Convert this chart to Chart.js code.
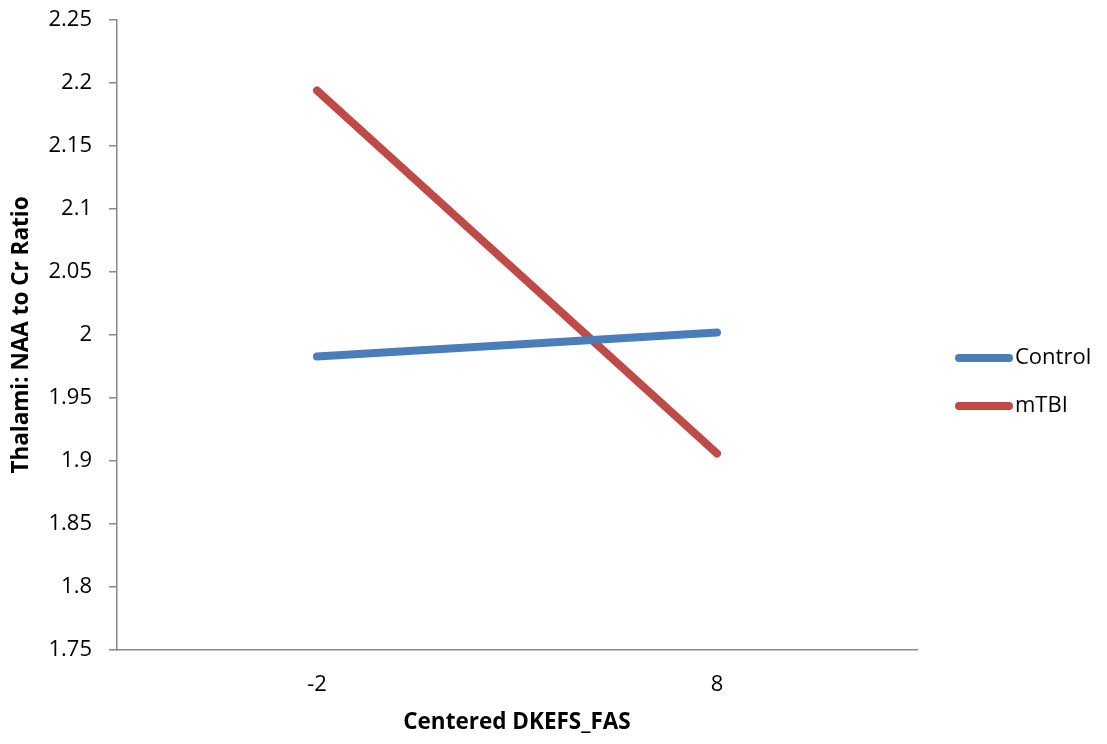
<!DOCTYPE html>
<html>
<head>
<meta charset="utf-8">
<script src="https://cdn.jsdelivr.net/npm/chart.js@4.4.0/dist/chart.umd.min.js"></script>
<style>
html,body{margin:0;padding:0;background:#fff;}
#wrap{width:1107px;height:744px;position:relative;}
</style>
</head>
<body>
<div id="wrap"><canvas id="c" width="1107" height="744"></canvas></div>
<script>
const categories = ['-2', '8'];
const controlValues = [1.983, 2.002];
const mtbiValues = [2.194, 1.906];
const seriesNames = ['Control', 'mTBI'];
const yTickValues = [1.75, 1.8, 1.85, 1.9, 1.95, 2, 2.05, 2.1, 2.15, 2.2, 2.25];

const FONT = "'Open Sans', 'Noto Sans', sans-serif";

const legendPlugin = {
  id: 'sideLegend',
  afterDraw(chart) {
    const ctx = chart.ctx;
    ctx.save();
    chart.data.datasets.forEach((ds, i) => {
      const y = 358 + i * 48;
      ctx.beginPath();
      ctx.strokeStyle = ds.borderColor;
      ctx.lineWidth = 8;
      ctx.lineCap = 'round';
      ctx.moveTo(959, y);
      ctx.lineTo(1009, y);
      ctx.stroke();
      ctx.fillStyle = '#000';
      ctx.font = "22px " + FONT;
      ctx.textBaseline = 'middle';
      ctx.textAlign = 'left';
      ctx.fillText(ds.label, 1015, y);
    });
    ctx.restore();
  }
};

new Chart(document.getElementById('c'), {
  type: 'line',
  data: {
    labels: categories,
    datasets: [
      { label: seriesNames[0], data: controlValues, borderColor: '#4A7EBB', backgroundColor: '#4A7EBB',
        borderWidth: 8, borderCapStyle: 'round', pointRadius: 0, tension: 0 },
      { label: seriesNames[1], data: mtbiValues, borderColor: '#BE4B48', backgroundColor: '#BE4B48',
        borderWidth: 8, borderCapStyle: 'round', pointRadius: 0, tension: 0 }
    ]
  },
  options: {
    responsive: false,
    animation: false,
    devicePixelRatio: 1,
    layout: { padding: { top: 20, right: 190, bottom: 0, left: 0 } },
    plugins: { legend: { display: false }, tooltip: { enabled: false } },
    scales: {
      x: {
        type: 'category',
        offset: true,
        grid: { display: false, drawTicks: false },
        border: { display: true, color: '#898989', width: 1.5 },
        ticks: { color: '#000', font: { family: FONT, size: 22 }, padding: 22 },
        title: { display: true, text: 'Centered DKEFS_FAS', color: '#000',
                 font: { family: FONT, size: 22.5, weight: 'bold' }, padding: { top: 0, bottom: 8 } },
        afterFit(scale) { scale.height = 94; scale.paddingLeft = 0; scale.paddingRight = 0; }
      },
      y: {
        min: 1.75, max: 2.25,
        afterBuildTicks(scale) { scale.ticks = yTickValues.map(v => ({ value: v })); },
        grid: { drawOnChartArea: false, drawTicks: true, tickLength: 8, color: '#898989', lineWidth: 1.5 },
        border: { display: true, color: '#898989', width: 1.5 },
        ticks: { color: '#000', font: { family: FONT, size: 22 }, padding: 17,
                 callback: (v) => String(+v.toFixed(2)) },
        title: { display: true, text: 'Thalami: NAA to Cr Ratio', color: '#000',
                 font: { family: FONT, size: 22.5, weight: 'bold' }, padding: { top: 8, bottom: 0 } },
        afterFit(scale) { scale.width = 117; scale.paddingTop = 0; scale.paddingBottom = 0; }
      }
    }
  },
  plugins: [legendPlugin]
});
</script>
</body>
</html>
